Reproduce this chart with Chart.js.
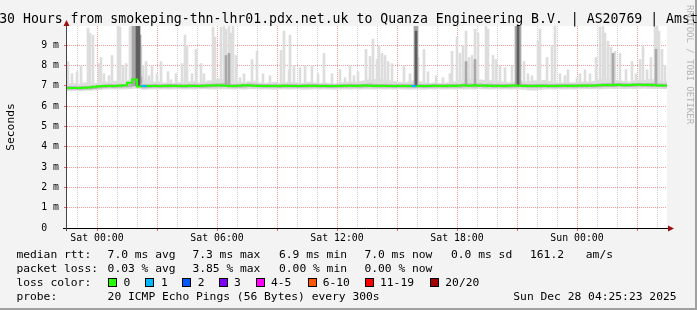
<!DOCTYPE html>
<html><head><meta charset="utf-8">
<script src="https://cdn.jsdelivr.net/npm/chart.js@4.4.1/dist/chart.umd.min.js"></script>
<style>html,body{margin:0;padding:0;background:#f3f3f3;overflow:hidden}canvas{display:block}</style>
</head><body>
<canvas id="c" width="697" height="310"></canvas>
<script>
// ---------- data (hours relative to Sat 00:00, values in milliseconds) ----------
const startHour = -1.5;
const endHour = 28.5;
const binHours = 0.25;
const yMaxMs = 9.95;

const xTickLabelHours = [0, 6, 12, 18, 24];
const xTickLabels = ['Sat 00:00', 'Sat 06:00', 'Sat 12:00', 'Sat 18:00', 'Sun 00:00'];

const titleText = '30 Hours from smokeping-thn-lhr01.pdx.net.uk to Quanza Engineering B.V. | AS20769 | Amst';

const median = [
  6.90,6.90,6.89,6.90,6.91,6.92,6.96,6.98,7.00,6.99,
  7.00,7.01,7.03,7.15,7.32,6.97,6.99,7.00,6.99,7.00,
  7.00,7.01,7.00,6.99,7.00,7.01,7.00,7.00,7.01,7.02,
  7.02,7.03,7.01,7.00,7.00,7.01,7.03,7.02,7.01,7.00,
  7.00,7.00,6.99,7.00,7.01,7.00,6.99,7.00,7.00,7.01,
  7.00,7.00,6.99,6.99,7.00,7.00,7.01,7.01,7.00,7.01,
  7.02,7.01,7.00,7.01,7.00,6.99,7.00,7.00,7.00,6.99,
  7.00,6.99,7.00,7.00,7.01,7.00,7.00,7.01,7.00,7.02,
  7.02,7.01,7.03,7.01,7.02,7.00,7.01,7.00,7.00,7.01,
  7.02,7.01,7.00,7.00,7.00,7.01,7.00,7.00,7.00,7.01,
  7.01,7.00,7.01,7.01,7.02,7.01,7.02,7.03,7.04,7.03,
  7.06,7.04,7.03,7.04,7.06,7.05,7.04,7.05,7.03,7.02
];
const lostPings = [
  0,0,0,0,0,0,0,0,0,0,
  0,0,0,0,0,1,0,0,0,0,
  0,0,0,0,0,0,0,0,0,0,
  0,0,0,0,0,0,0,0,0,0,
  0,0,0,0,0,0,0,0,0,0,
  0,0,0,0,0,0,0,0,0,0,
  0,0,0,0,0,0,0,0,0,1,
  0,0,0,0,0,0,0,0,0,0,
  0,0,0,0,0,0,0,0,0,0,
  0,0,0,0,0,0,0,0,0,0,
  0,0,0,0,0,0,0,0,0,0,
  0,0,0,0,0,0,0,0,0,0
];
const smokeLow = [
  6.76,6.77,6.76,6.78,6.78,6.80,6.82,6.84,6.85,6.84,
  6.84,6.85,6.86,6.88,6.86,6.83,6.84,6.85,6.84,6.85,
  6.84,6.85,6.85,6.84,6.85,6.84,6.85,6.86,6.85,6.84,
  6.85,6.86,6.85,6.84,6.85,6.84,6.86,6.85,6.84,6.85,
  6.84,6.83,6.84,6.85,6.84,6.85,6.84,6.83,6.84,6.85,
  6.84,6.85,6.84,6.83,6.84,6.85,6.84,6.85,6.84,6.85,
  6.85,6.84,6.85,6.84,6.85,6.84,6.85,6.84,6.83,6.84,
  6.84,6.83,6.85,6.84,6.85,6.84,6.85,6.84,6.85,6.84,
  6.85,6.84,6.86,6.85,6.84,6.85,6.84,6.85,6.84,6.85,
  6.84,6.83,6.80,6.79,6.82,6.84,6.85,6.84,6.85,6.84,
  6.85,6.84,6.85,6.86,6.85,6.86,6.85,6.86,6.87,6.86,
  6.87,6.86,6.87,6.86,6.87,6.88,6.87,6.86,6.87,6.86
];
const smokeHigh = [
  7.10,7.12,7.08,7.15,7.10,7.12,7.18,7.20,7.15,7.22,
  7.25,7.20,7.28,7.35,7.55,7.30,7.22,7.18,7.20,7.15,
  7.15,7.12,7.18,7.15,7.20,7.22,7.15,7.18,7.25,7.30,
  7.35,7.32,7.25,7.20,7.18,7.15,7.22,7.20,7.15,7.12,
  7.15,7.18,7.12,7.15,7.20,7.16,7.12,7.14,7.18,7.15,
  7.12,7.15,7.12,7.10,7.14,7.16,7.20,7.18,7.22,7.25,
  7.30,7.32,7.35,7.30,7.25,7.22,7.18,7.15,7.20,7.25,
  7.20,7.15,7.12,7.15,7.12,7.14,7.16,7.20,7.25,7.30,
  7.35,7.32,7.30,7.28,7.25,7.20,7.22,7.18,7.16,7.18,
  7.25,7.20,7.22,7.25,7.20,7.28,7.22,7.16,7.14,7.15,
  7.15,7.16,7.18,7.20,7.18,7.22,7.30,7.35,7.32,7.28,
  7.25,7.22,7.20,7.25,7.30,7.28,7.32,7.30,7.25,7.22
];
const coreLow = [
  6.84,6.84,6.83,6.84,6.85,6.86,6.89,6.91,6.93,6.92,
  6.93,6.94,6.95,7.02,7.12,6.90,6.92,6.93,6.92,6.93,
  6.93,6.94,6.93,6.92,6.93,6.94,6.93,6.93,6.94,6.95,
  6.95,6.96,6.94,6.93,6.93,6.94,6.96,6.95,6.94,6.93,
  6.93,6.93,6.92,6.93,6.94,6.93,6.92,6.93,6.93,6.94,
  6.93,6.93,6.92,6.92,6.93,6.93,6.94,6.94,6.93,6.94,
  6.95,6.94,6.93,6.94,6.93,6.92,6.93,6.93,6.93,6.92,
  6.93,6.92,6.93,6.93,6.94,6.93,6.93,6.94,6.93,6.95,
  6.95,6.94,6.96,6.94,6.95,6.93,6.94,6.93,6.93,6.94,
  6.95,6.94,6.93,6.93,6.93,6.94,6.93,6.93,6.93,6.94,
  6.94,6.93,6.94,6.94,6.95,6.94,6.95,6.96,6.97,6.96,
  6.99,6.97,6.96,6.97,6.99,6.98,6.97,6.98,6.96,6.95
];
const coreHigh = [
  6.97,6.97,6.96,6.97,6.98,6.99,7.03,7.05,7.07,7.06,
  7.07,7.08,7.10,7.25,7.45,7.06,7.06,7.07,7.06,7.07,
  7.07,7.08,7.07,7.06,7.07,7.08,7.07,7.07,7.08,7.10,
  7.10,7.11,7.08,7.07,7.07,7.08,7.10,7.09,7.08,7.07,
  7.07,7.07,7.06,7.07,7.08,7.07,7.06,7.07,7.07,7.08,
  7.07,7.07,7.06,7.06,7.07,7.07,7.08,7.08,7.07,7.08,
  7.10,7.08,7.07,7.08,7.07,7.06,7.07,7.07,7.07,7.06,
  7.07,7.06,7.07,7.07,7.08,7.07,7.07,7.08,7.07,7.10,
  7.10,7.08,7.10,7.08,7.09,7.07,7.08,7.07,7.07,7.08,
  7.10,7.08,7.07,7.07,7.07,7.08,7.07,7.07,7.07,7.08,
  7.08,7.07,7.08,7.08,7.09,7.08,7.10,7.11,7.12,7.10,
  7.13,7.11,7.10,7.11,7.13,7.12,7.11,7.12,7.10,7.09
];
const spikeBaseMs = 7.0;
const lightSpikeHours = [
  -1.45,-1.25,-1.00,-0.80,-0.45,-0.35,-0.20,0.10,0.20,0.35,0.60,0.75,1.05,1.15,1.30,1.45,1.65,1.75,1.85,
  2.20,2.30,2.45,2.60,2.75,3.00,3.20,3.55,3.70,3.95,4.25,4.40,4.50,4.75,4.95,5.20,5.35,5.80,5.90,
  6.20,6.35,6.45,6.60,6.70,6.80,6.95,7.15,7.35,7.75,8.00,8.30,8.65,9.20,9.35,9.60,9.65,9.85,
  10.15,10.40,10.75,11.05,11.35,11.75,12.15,12.40,12.65,12.85,13.05,13.45,13.65,13.80,14.00,14.10,
  14.25,14.40,14.55,14.75,15.35,15.65,16.05,16.35,16.55,16.95,17.30,17.65,17.75,18.00,18.15,18.30,
  18.45,18.60,18.75,18.90,19.05,19.45,19.55,19.80,19.95,20.15,20.40,20.75,21.35,21.55,21.75,22.05,
  22.15,22.50,22.75,22.90,23.15,23.40,23.55,24.00,24.15,24.40,24.65,24.95,25.15,25.30,25.40,25.55,
  25.70,25.90,26.15,26.45,26.75,26.95,27.15,27.30,27.50,27.70,27.90,28.00,28.10,28.25,28.40
];
const lightSpikeTops = [
  8.2,7.6,7.7,8.0,9.85,9.6,9.5,8.1,8.4,7.6,7.5,8.5,10.0,9.9,8.0,8.1,9.9,10.0,9.7,
  9.0,8.0,8.2,7.5,8.0,7.6,8.2,7.7,7.3,7.6,8.1,9.5,9.0,7.6,8.8,8.1,7.6,9.9,9.4,
  9.9,10.0,9.8,10.0,9.6,10.0,8.5,7.4,7.6,8.3,8.7,7.6,7.5,8.75,9.7,7.8,9.5,8.0,
  7.9,8.0,8.0,7.6,8.6,7.6,7.8,7.4,8.0,7.5,7.7,8.8,8.45,9.3,8.3,9.0,
  8.6,8.5,8.2,8.1,8.0,7.6,8.4,8.8,7.7,7.5,7.4,7.6,8.7,9.4,8.6,9.0,
  9.7,8.4,8.5,9.8,9.6,10.0,9.8,8.5,8.3,8.0,7.9,8.0,8.2,7.6,7.5,9.2,
  9.8,8.4,9.0,10.0,7.6,7.5,7.8,7.4,7.6,7.8,7.6,8.4,9.9,10.0,9.6,9.2,
  8.9,8.7,8.6,7.8,8.2,7.6,8.3,9.0,7.8,8.4,9.9,10.0,9.7,8.8,8.0
];
const midSpikeHours = [1.80, 1.90, 2.15, 6.45, 6.60, 15.90, 16.00, 18.45, 18.90, 20.95, 21.15, 25.80, 27.95];
const midSpikeTops  = [10.0, 10.0, 9.5, 8.5, 8.6, 10.0, 10.0, 8.2, 8.3, 10.0, 10.0, 8.6, 8.8];
const darkSpikeHours = [2.00, 2.10, 15.95, 21.05];
const darkSpikeTops  = [10.0, 10.0, 9.7, 10.0];

const lossLegend = ['0', '1', '2', '3', '4-5', '6-10', '11-19', '20/20'];
const lossLegendColors = ['#26ff00', '#00b8ff', '#0059ff', '#7e00ff', '#ff00ff', '#ff5500', '#ff0000', '#a10000'];

// ---------- helpers ----------
function lossColor(n) {
  if (n <= 0) return lossLegendColors[0];
  if (n === 1) return lossLegendColors[1];
  if (n === 2) return lossLegendColors[2];
  if (n === 3) return lossLegendColors[3];
  if (n <= 5) return lossLegendColors[4];
  if (n <= 10) return lossLegendColors[5];
  if (n <= 19) return lossLegendColors[6];
  return lossLegendColors[7];
}
const binCenter = i => startHour + (i + 0.5) * binHours;
const binStart = i => startHour + i * binHours;

const MONO = '"DejaVu Sans Mono", "Liberation Mono", monospace';
const RED_GRID = 'rgba(235,0,0,0.40)';
const GRAY_GRID = 'rgba(150,150,150,0.45)';

const medianPoints = median.map((m, i) => ({x: binStart(i), y: m}));
medianPoints.push({x: endHour, y: median[median.length - 1]});

const decor = {
  id: 'decor',
  beforeDraw(chart) {
    const {ctx, chartArea: a, width, height} = chart;
    ctx.save();
    ctx.fillStyle = '#f3f3f3';
    ctx.fillRect(0, 0, width, height);
    ctx.fillStyle = '#a0a0a0';
    ctx.fillRect(width - 2, 0, 2, height);
    ctx.fillRect(0, height - 2, width, 2);
    ctx.fillStyle = '#ffffff';
    ctx.fillRect(a.left, a.top, a.right - a.left, a.bottom - a.top);
    ctx.restore();
  },
  afterDraw(chart) {
    const {ctx, chartArea: a} = chart;
    ctx.save();
    // axes
    ctx.strokeStyle = '#000';
    ctx.lineWidth = 1;
    ctx.beginPath();
    ctx.moveTo(a.left - 4, a.bottom + 0.5);
    ctx.lineTo(a.right + 3, a.bottom + 0.5);
    ctx.stroke();
    ctx.strokeStyle = '#444';
    ctx.beginPath();
    ctx.moveTo(a.left - 0.5, a.bottom + 3);
    ctx.lineTo(a.left - 0.5, a.top - 2);
    ctx.stroke();
    // arrows
    ctx.fillStyle = '#9b1010';
    ctx.beginPath();
    ctx.moveTo(a.right + 7, a.bottom + 0.5);
    ctx.lineTo(a.right + 1, a.bottom - 2.5);
    ctx.lineTo(a.right + 1, a.bottom + 3.5);
    ctx.closePath();
    ctx.fill();
    ctx.beginPath();
    ctx.moveTo(a.left - 0.5, a.top - 6);
    ctx.lineTo(a.left - 3.5, a.top);
    ctx.lineTo(a.left + 2.5, a.top);
    ctx.closePath();
    ctx.fill();
    // title
    ctx.fillStyle = '#000';
    ctx.font = '13.2px ' + MONO;
    ctx.textAlign = 'center';
    ctx.textBaseline = 'alphabetic';
    ctx.fillText(titleText, 348.5, 23);
    // watermark
    ctx.save();
    ctx.translate(689, 5);
    ctx.rotate(Math.PI / 2);
    ctx.font = '9px ' + MONO;
    ctx.fillStyle = '#b4b4b4';
    ctx.textAlign = 'left';
    ctx.textBaseline = 'middle';
    ctx.fillText('RRDTOOL / TOBI OETIKER', 0, 0);
    ctx.restore();
    // legend
    ctx.font = '11.3px ' + MONO;
    ctx.fillStyle = '#000';
    ctx.textAlign = 'left';
    ctx.textBaseline = 'alphabetic';
    const r1 = 258, r2 = 272, r3 = 286, r4 = 300;
    ctx.fillText('median rtt:', 16.4, r1);
    ctx.fillText('7.0 ms avg', 107.6, r1);
    ctx.fillText('7.3 ms max', 192.4, r1);
    ctx.fillText('6.9 ms min', 279, r1);
    ctx.fillText('7.0 ms now', 364.4, r1);
    ctx.fillText('0.0 ms sd', 451, r1);
    ctx.fillText('161.2', 530, r1);
    ctx.fillText('am/s', 585.8, r1);
    ctx.fillText('packet loss:', 16.4, r2);
    ctx.fillText('0.03 % avg', 107.6, r2);
    ctx.fillText('3.85 % max', 192.4, r2);
    ctx.fillText('0.00 % min', 279, r2);
    ctx.fillText('0.00 % now', 364.4, r2);
    ctx.fillText('loss color:', 16.4, r3);
    const boxX = [108, 145.3, 182, 219, 256.4, 307.6, 365.3, 430];
    const labX = [123.6, 161, 197.8, 234, 271, 322.7, 380, 445.3];
    lossLegend.forEach((lab, i) => {
      ctx.fillStyle = '#000';
      ctx.fillRect(Math.round(boxX[i]), r3 - 8, 9, 9);
      ctx.fillStyle = lossLegendColors[i];
      ctx.fillRect(Math.round(boxX[i]) + 1, r3 - 7, 7, 7);
      ctx.fillStyle = '#000';
      ctx.fillText(lab, labX[i], r3);
    });
    ctx.fillText('probe:', 16.4, r4);
    ctx.fillText('20 ICMP Echo Pings (56 Bytes) every 300s', 107.6, r4);
    ctx.fillText('Sun Dec 28 04:25:23 2025', 513.3, r4);
    ctx.restore();
  }
};

new Chart(document.getElementById('c'), {
  type: 'line',
  data: {
    datasets: [
      {
        type: 'bar', order: 10, grouped: false, barThickness: 5,
        backgroundColor: '#dddddd', borderWidth: 0,
        data: smokeLow.map((lo, i) => ({x: binCenter(i), y: [lo, smokeHigh[i]]}))
      },
      {
        type: 'bar', order: 9, grouped: false, barThickness: 2,
        backgroundColor: '#dddddd', borderWidth: 0,
        data: lightSpikeHours.map((h, i) => ({x: h, y: [spikeBaseMs, lightSpikeTops[i]]}))
      },
      {
        type: 'bar', order: 8, grouped: false, barThickness: 5,
        backgroundColor: '#b4b4b4', borderWidth: 0,
        data: coreLow.map((lo, i) => ({x: binCenter(i), y: [lo, coreHigh[i]]}))
      },
      {
        type: 'bar', order: 7, grouped: false, barThickness: 2,
        backgroundColor: '#a8a8a8', borderWidth: 0,
        data: midSpikeHours.map((h, i) => ({x: h, y: [spikeBaseMs, midSpikeTops[i]]}))
      },
      {
        type: 'bar', order: 6, grouped: false, barThickness: 2,
        backgroundColor: '#5f5f5f', borderWidth: 0,
        data: darkSpikeHours.map((h, i) => ({x: h, y: [spikeBaseMs, darkSpikeTops[i]]}))
      },
      {
        type: 'line', order: 1, stepped: 'after',
        data: medianPoints,
        borderColor: lossLegendColors[0], borderWidth: 2, pointRadius: 0, fill: false,
        segment: { borderColor: c => lossColor(lostPings[c.p0DataIndex] || 0) }
      }
    ]
  },
  plugins: [decor],
  options: {
    responsive: false, animation: false, events: [],
    layout: { padding: { left: 0, right: 30, top: 26, bottom: 0 } },
    plugins: { legend: { display: false }, tooltip: { enabled: false }, title: { display: false } },
    scales: {
      x: {
        type: 'linear', min: startHour, max: endHour, offset: false,
        afterBuildTicks: s => { const t = []; for (let h = Math.ceil(s.min); h < s.max; h++) t.push({value: h}); s.ticks = t; },
        afterFit: s => { s.height = 82; },
        grid: {
          offset: false, lineWidth: 1, tickLength: 3, tickWidth: 1,
          color: c => (c.tick && c.tick.value % 3 === 0) ? RED_GRID : GRAY_GRID,
          tickColor: c => (c.tick && c.tick.value % 3 === 0) ? 'rgba(220,0,0,0.6)' : 'rgba(0,0,0,0)',
          tickBorderDash: []
        },
        border: { display: false, dash: [1, 1] },
        ticks: {
          autoSkip: false, maxRotation: 0, minRotation: 0, padding: 2, color: '#000',
          font: { family: MONO, size: 9.85 },
          callback: v => { const k = xTickLabelHours.indexOf(v); return k >= 0 ? xTickLabels[k] : ''; }
        }
      },
      y: {
        type: 'linear', min: 0, max: yMaxMs,
        afterBuildTicks: s => { const t = []; for (let k = 0; k * 0.5 < s.max; k++) t.push({value: k * 0.5}); s.ticks = t; },
        afterFit: s => { s.width = 67; },
        grid: {
          lineWidth: 1, tickLength: 3, tickWidth: 1,
          color: c => (c.tick && Number.isInteger(c.tick.value)) ? RED_GRID : GRAY_GRID,
          tickColor: c => (c.tick && Number.isInteger(c.tick.value)) ? 'rgba(220,0,0,0.6)' : 'rgba(0,0,0,0)',
          tickBorderDash: []
        },
        border: { display: false, dash: [1, 1] },
        title: { display: true, text: 'Seconds', color: '#000', font: { family: MONO, size: 11.3, lineHeight: 1 }, padding: { top: 5, bottom: 0 } },
        ticks: {
          padding: 5, color: '#000', font: { family: MONO, size: 9.8 },
          callback: v => Number.isInteger(v) ? (v === 0 ? '0  ' : v + ' m') : ''
        }
      }
    }
  }
});
</script>
</body></html>
